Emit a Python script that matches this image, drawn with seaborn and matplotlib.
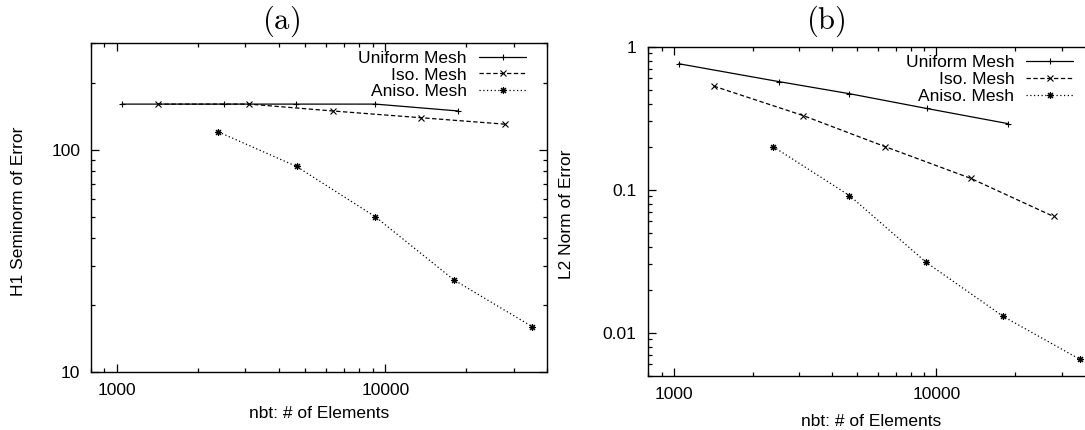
import numpy as np
import pandas as pd
import matplotlib
matplotlib.use("Agg")
import matplotlib.pyplot as plt
import seaborn as sns
from matplotlib.ticker import LogLocator, FuncFormatter, NullFormatter

# ---------------- data ----------------
series_names = ["Uniform Mesh", "Iso. Mesh", "Aniso. Mesh"]

uniform_nbt = [1045, 2512, 4640, 9173, 18680]
iso_nbt = [1420, 3108, 6378, 13515, 27925]
aniso_nbt = [2390, 4667, 9150, 17960, 35225]

h1_uniform = [160, 160, 160, 160, 149]
h1_iso = [160, 160, 149, 139, 130]
h1_aniso = [120, 84, 50, 26, 16]

l2_uniform = [0.76, 0.57, 0.47, 0.37, 0.29]
l2_iso = [0.53, 0.33, 0.20, 0.12, 0.065]
l2_aniso = [0.20, 0.091, 0.031, 0.013, 0.0065]

panel_titles = ["(a)", "(b)"]
x_label = "nbt: # of Elements"
y_labels = ["H1 Seminorm of Error", "L2 Norm of Error"]


def make_df(u, i, a):
    rows = []
    for name, xs, ys in zip(series_names, [uniform_nbt, iso_nbt, aniso_nbt], [u, i, a]):
        for x, y in zip(xs, ys):
            rows.append({"nbt": x, "err": y, "Mesh": name})
    return pd.DataFrame(rows)


df_h1 = make_df(h1_uniform, h1_iso, h1_aniso)
df_l2 = make_df(l2_uniform, l2_iso, l2_aniso)

# ---------------- style ----------------
sns.set_style("ticks")
plt.rcParams["font.family"] = ["Liberation Sans", "DejaVu Sans"]
plt.rcParams["mathtext.fontset"] = "cm"
plt.rcParams["font.size"] = 12.5
plt.rcParams["text.color"] = "black"
plt.rcParams["axes.labelcolor"] = "black"
plt.rcParams["xtick.color"] = "black"
plt.rcParams["ytick.color"] = "black"

W, H = 1085, 430
fig = plt.figure(figsize=(W / 100, H / 100), dpi=100)
fig.patch.set_facecolor("white")


def px_axes(l, t, r, b):
    return fig.add_axes([l / W, 1 - b / H, (r - l) / W, (b - t) / H])


ax1 = px_axes(90.7, 43.3, 547.3, 372.3)
ax2 = px_axes(648.3, 46.7, 1094.5, 375.7)

palette = {n: "black" for n in series_names}
markers = {"Uniform Mesh": "+", "Iso. Mesh": "x", "Aniso. Mesh": (8, 2, 0)}
dashes = {"Uniform Mesh": "", "Iso. Mesh": (3.5, 2), "Aniso. Mesh": (1, 2)}

fmt = FuncFormatter(lambda v, p: "%g" % v)
FS = 12.5

configs = [
    (ax1, df_h1, (10, 300), y_labels[0], -0.159, 0.49, (526.0, 50.5), 7.5),
    (ax2, df_l2, (0.005, 1.0), y_labels[1], -0.184, 0.491, (1073.3, 55.0), 8.5),
]

for ax, df, ylim, ylab, ylx, yly, leg_anchor, ypad in configs:
    sns.lineplot(data=df, x="nbt", y="err", hue="Mesh", style="Mesh",
                 hue_order=series_names, style_order=series_names,
                 palette=palette, markers=markers, dashes=dashes,
                 markersize=5, linewidth=0.9,
                 legend=False, ax=ax)
    for ln in ax.get_lines():
        ln.set_markeredgecolor("black")
        ln.set_markerfacecolor("black")
        ln.set_markeredgewidth(0.8)
    ax.set_xscale("log")
    ax.set_yscale("log")
    ax.set_xlim(800, 40000)
    ax.set_ylim(*ylim)
    for axis in (ax.xaxis, ax.yaxis):
        axis.set_major_locator(LogLocator(base=10))
        axis.set_minor_locator(LogLocator(base=10, subs=np.arange(2, 10)))
        axis.set_major_formatter(fmt)
        axis.set_minor_formatter(NullFormatter())
    ax.tick_params(which="both", direction="in", top=True, right=True,
                   colors="black", width=0.9, labelsize=FS)
    ax.tick_params(which="major", length=6)
    ax.tick_params(which="minor", length=3)
    ax.tick_params(axis="y", pad=ypad)
    ax.tick_params(axis="x", pad=8)
    for s in ax.spines.values():
        s.set_visible(True)
        s.set_linewidth(1.0)
        s.set_color("black")

    ax.set_xlabel(x_label, fontsize=FS)
    ax.set_ylabel(ylab, fontsize=FS)
    ax.yaxis.set_label_coords(ylx, yly)
    ax.yaxis.label.set_va("center")

    handles = ax.get_lines()[:3]
    ax.legend(handles, series_names, loc="upper right",
              bbox_to_anchor=(leg_anchor[0] / W, 1 - leg_anchor[1] / H),
              bbox_transform=fig.transFigure, frameon=False,
              markerfirst=False, handlelength=2.7, handletextpad=0.7,
              labelspacing=0.1, borderpad=0, borderaxespad=0,
              fontsize=FS, numpoints=1)

ax1.xaxis.set_label_coords(0.5, (372.3 - 413) / 329)
ax1.xaxis.label.set_va("center")
ax2.xaxis.set_label_coords(0.5, (375.7 - 421) / 329)
ax2.xaxis.label.set_va("center")

fig.text(281 / W, 1 - 21 / H, r"$\mathrm{(a)}$", ha="center", va="center", fontsize=22)
fig.text(826 / W, 1 - 21 / H, r"$\mathrm{(b)}$", ha="center", va="center", fontsize=22)

fig.savefig("out.png", dpi=100)
